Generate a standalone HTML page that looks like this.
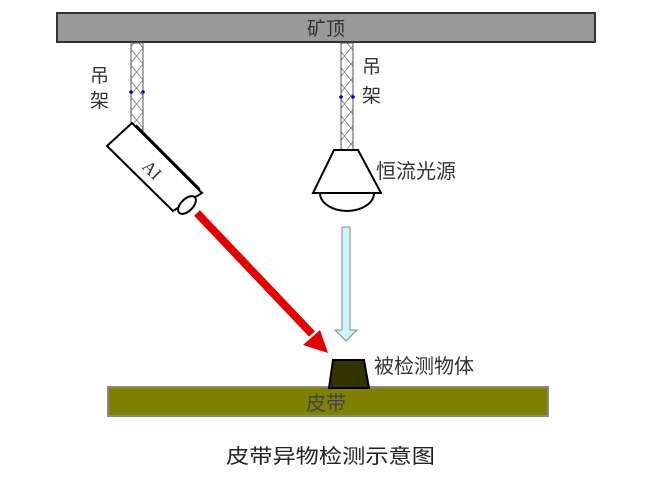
<!DOCTYPE html>
<html><head><meta charset="utf-8"><style>body{margin:0;background:#fff}svg{display:block}</style></head><body>
<svg width="655" height="480" xmlns="http://www.w3.org/2000/svg" font-family="'Liberation Sans','Noto Sans CJK SC',sans-serif">
<defs><pattern id="tr" width="13" height="16" patternUnits="userSpaceOnUse"><path d="M0 0L13 16M13 0L0 16" stroke="#777" stroke-width="0.8" fill="none"/></pattern></defs>
<rect x="57" y="13" width="538" height="29" fill="#999" stroke="#333" stroke-width="2"/>
<text x="326" y="35" font-size="19" fill="#333" text-anchor="middle">矿顶</text>
<rect x="131" y="43" width="12" height="88" fill="url(#tr)" stroke="#555" stroke-width="1"/>
<rect x="341" y="43" width="12" height="107" fill="url(#tr)" stroke="#555" stroke-width="1"/>
<circle cx="131" cy="92" r="1.8" fill="#00c"/><circle cx="143" cy="92" r="1.8" fill="#00c"/>
<circle cx="341" cy="97" r="1.8" fill="#00c"/><circle cx="353" cy="97" r="1.8" fill="#00c"/>
<text x="90" y="82" font-size="19" fill="#333">吊</text><text x="90" y="107" font-size="19" fill="#333">架</text>
<text x="362" y="73" font-size="19" fill="#333">吊</text><text x="362" y="102" font-size="19" fill="#333">架</text>
<polygon points="107,146 132,123 202,193 173,211" fill="#fff" stroke="#000" stroke-width="2"/>
<line x1="136" y1="125" x2="200" y2="189" stroke="#000" stroke-width="1.5"/>
<ellipse cx="187" cy="205" rx="11" ry="6" transform="rotate(-45 187 205)" fill="#fff" stroke="#000" stroke-width="2"/>
<text x="152" y="176" font-size="18" fill="#333" text-anchor="middle" font-family="'Liberation Serif',serif" transform="rotate(45 152 170)">AI</text>
<line x1="197" y1="213" x2="312" y2="334" stroke="#e00000" stroke-width="8"/>
<polygon points="328,353 303,345 320,330" fill="#e00000"/>
<polygon points="334,150 358,150 381,193 313,193" fill="#fff" stroke="#000" stroke-width="2"/>
<path d="M320 193 A27 18 0 0 0 374 193 Z" fill="#fff" stroke="#000" stroke-width="2"/>
<text x="376" y="178" font-size="20" fill="#333">恒流光源</text>
<polygon points="342,227 350,227 350,330 357,330 346,341 335,330 342,330" fill="#ccf5f5" stroke="#888" stroke-width="1"/>
<rect x="108" y="387" width="440" height="29" fill="#808000" stroke="#888" stroke-width="2"/>
<text x="326" y="410" font-size="20" fill="#444" text-anchor="middle">皮带</text>
<polygon points="333,360 364,360 369,388 329,388" fill="#333300" stroke="#000" stroke-width="2"/>
<text x="374" y="373" font-size="20" fill="#333">被检测物体</text>
<text x="226" y="463" font-size="20" fill="#222" textLength="209" lengthAdjust="spacingAndGlyphs">皮带异物检测示意图</text>
</svg>
</body></html>
